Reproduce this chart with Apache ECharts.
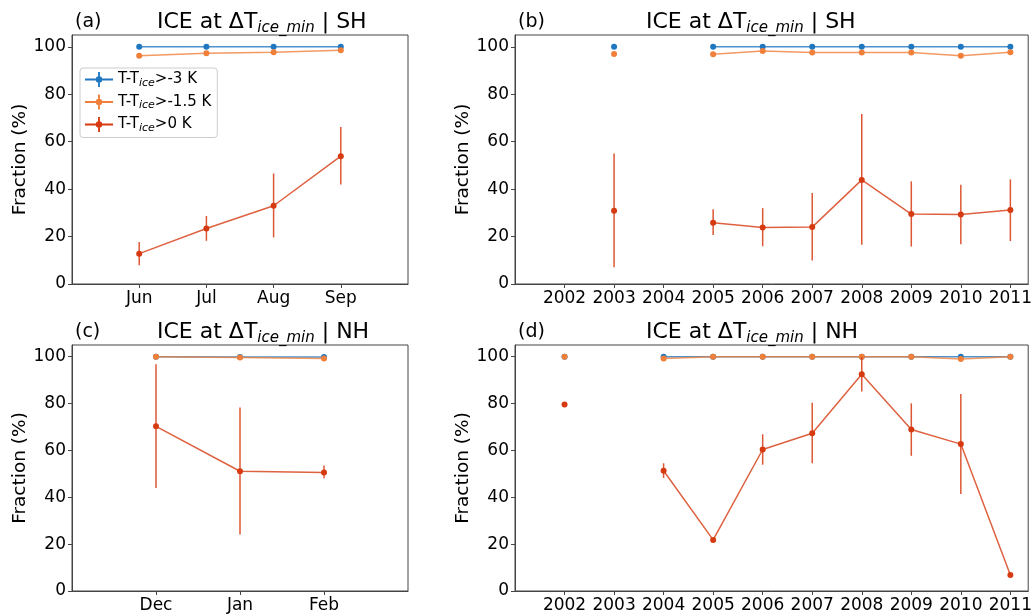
<!DOCTYPE html>
<html>
<head>
<meta charset="utf-8">
<script src="https://cdn.jsdelivr.net/npm/echarts@6/dist/echarts.min.js"></script>
<style>
  html, body { margin: 0; padding: 0; background: #fff; }
  #main { width: 1035px; height: 614px; }
</style>
</head>
<body>
<div id="main"></div>
<script>
// 数据
var monthsSH = ['Jun', 'Jul', 'Aug', 'Sep'];
var monthsNH = ['Dec', 'Jan', 'Feb'];
var years = [2002, 2003, 2004, 2005, 2006, 2007, 2008, 2009, 2010, 2011];

// (a) SH 月
var shMonBlue = [100, 100, 100, 100];
var shMonOrange = [96.2, 97.3, 97.7, 98.6];
var shMonRed = [12.8, 23.4, 33.0, 53.9];
var shMonRedLo = [7.9, 18.2, 19.7, 42.0];
var shMonRedHi = [17.7, 28.7, 46.6, 66.2];

// (b) SH 年
var shYrBlue = [null, 100, null, 100, 100, 100, 100, 100, 100, 100];
var shYrOrange = [null, 97.0, null, 96.9, 98.3, 97.6, 97.6, 97.6, 96.3, 97.7];
var shYrOrangeLo = [null, null, null, null, null, null, 96.9, null, 95.3, null];
var shYrOrangeHi = [null, null, null, null, null, null, 98.3, null, 97.4, null];
var shYrRed = [null, 30.9, null, 25.8, 23.8, 24.0, 43.9, 29.5, 29.3, 31.2];
var shYrRedLo = [null, 7.1, null, 20.7, 15.9, 9.9, 16.5, 15.8, 16.8, 18.1];
var shYrRedHi = [null, 55.0, null, 31.5, 32.0, 38.4, 71.7, 43.3, 41.9, 44.1];

// (c) NH 月
var nhMonBlue = [100, 99.9, 99.9];
var nhMonOrange = [100, 99.7, 99.2];
var nhMonRed = [70.3, 51.1, 50.6];
var nhMonRedLo = [44.0, 24.1, 48.1];
var nhMonRedHi = [96.8, 78.3, 53.6];

// (d) NH 年
var nhYrBlue = [100, null, 100, 100, 100, 100, 100, 100, 100, 100];
var nhYrOrange = [100, null, 99.2, 100, 100, 100, 100, 100, 99.0, 100];
var nhYrRed = [79.6, null, 51.3, 21.8, 60.4, 67.3, 92.5, 68.9, 62.7, 6.8];
var nhYrRedLo = [null, null, 48.3, null, 53.9, 54.5, 85.2, 57.7, 41.4, null];
var nhYrRedHi = [null, null, 54.5, null, 66.9, 80.4, 100, 80.1, 84.1, null];

var yTicks = [0, 20, 40, 60, 80, 100];

var names = ['T-Tice>-3 K', 'T-Tice>-1.5 K', 'T-Tice>0 K'];
var colors = ['#1f77c0', '#f07f3a', '#d63a10'];
var FONT = 'DejaVu Sans';
var AX = '#444';

var myChart = echarts.init(document.getElementById('main'));

function pts(xs, ys) {
    return ys.map(function (v, i) { return [xs[i], v == null ? '-' : v]; });
}
function errPts(xs, lo, hi) {
    var out = [];
    lo.forEach(function (v, i) {
        if (v != null && hi[i] != null) out.push([xs[i], v, hi[i]]);
    });
    return out;
}

function lineSeries(k, gi, data) {
    return {
        name: names[k],
        type: 'line',
        xAxisIndex: gi,
        yAxisIndex: gi,
        data: data,
        symbol: 'circle',
        symbolSize: 6,
        connectNulls: false,
        color: colors[k],
        lineStyle: { width: 1.5, color: colors[k], opacity: 0.8 },
        itemStyle: { color: colors[k] },
        z: 3 + k
    };
}
function errSeries(k, gi, data) {
    return {
        name: 'err' + k,
        type: 'custom',
        xAxisIndex: gi,
        yAxisIndex: gi,
        data: data,
        z: 3 + k,
        renderItem: function (params, api) {
            var p1 = api.coord([api.value(0), api.value(1)]);
            var p2 = api.coord([api.value(0), api.value(2)]);
            return {
                type: 'line',
                shape: { x1: p1[0], y1: p1[1], x2: p2[0], y2: p2[1] },
                style: { stroke: colors[k], lineWidth: 1.5, opacity: 0.85 }
            };
        }
    };
}

var monX4 = [1, 2, 3, 4];
var monX3 = [1, 2, 3];

var grids = [
    { left: 72, top: 35, width: 336, height: 249 },
    { left: 515, top: 35, width: 516, height: 249 },
    { left: 72, top: 345, width: 336, height: 247 },
    { left: 515, top: 345, width: 516, height: 247 }
];
grids.forEach(function (g) {
    g.show = true;
    g.borderColor = AX;
    g.borderWidth = 1;
    g.backgroundColor = 'transparent';
});

function xAxisOf(gi, min, max, ticks, fmt) {
    return {
        type: 'value',
        gridIndex: gi,
        min: min,
        max: max,
        interval: 1,
        axisLine: { show: true, lineStyle: { color: AX } },
        axisTick: { show: true, length: 4, customValues: ticks, lineStyle: { color: AX } },
        splitLine: { show: false },
        axisLabel: {
            customValues: ticks,
            margin: 6, fontSize: 17, color: '#000', fontFamily: FONT,
            formatter: fmt
        }
    };
}
function yAxisOf(gi) {
    return {
        type: 'value',
        gridIndex: gi,
        min: 0,
        max: 105,
        interval: 20,
        name: 'Fraction (%)',
        nameLocation: 'middle',
        nameRotate: 90,
        nameGap: 42,
        nameTextStyle: { fontSize: 18.5, color: '#000', fontFamily: FONT },
        axisLine: { show: true, lineStyle: { color: AX } },
        axisTick: { show: true, length: 4, customValues: yTicks, lineStyle: { color: AX } },
        splitLine: { show: false },
        axisLabel: { customValues: yTicks, margin: 6, fontSize: 17, color: '#000', fontFamily: FONT }
    };
}
var fmtYear = function (v) { return String(v); };

function titles(tag, tx, ty, lx, hemi) {
    return [{
        text: tag, left: tx, top: ty,
        textStyle: { fontSize: 19, fontWeight: 'normal', color: '#000', fontFamily: FONT }
    }, {
        text: '{n|ICE at ΔT}{s|ice_min}{n| | ' + hemi + '}',
        left: lx, top: ty - 4,
        textStyle: {
            fontWeight: 'normal',
            rich: {
                n: { fontSize: 22, fontWeight: 'normal', color: '#000', fontFamily: FONT },
                s: { fontSize: 15, fontWeight: 'normal', color: '#000', fontFamily: FONT, fontStyle: 'italic', padding: [12, 0, 0, 0] }
            }
        }
    }];
}

var legendIcon = 'path://M0,7h30v2H0z M14,0h2v16h-2z M11.5,8a3.5,3.5 0 1,1 7,0a3.5,3.5 0 1,1 -7,0z';

option = {
    animation: false,
    backgroundColor: '#fff',
    title: [].concat(
        titles('(a)', 70, 8, 152, 'SH'),
        titles('(b)', 513, 8, 641, 'SH'),
        titles('(c)', 70, 318, 152, 'NH'),
        titles('(d)', 513, 318, 641, 'NH')
    ),
    legend: {
        data: names,
        left: 80,
        top: 68,
        orient: 'vertical',
        itemGap: 6,
        itemWidth: 28,
        itemHeight: 16,
        padding: [4, 6, 4, 5],
        borderColor: '#ccc',
        borderWidth: 1,
        borderRadius: 3,
        icon: legendIcon,
        formatter: function (name) {
            return '{a|T-T}{b|ice}{a|' + name.replace('T-Tice', '') + '}';
        },
        textStyle: {
            rich: {
                a: { fontSize: 15, color: '#000', fontFamily: FONT },
                b: { fontSize: 11, color: '#000', fontFamily: FONT, fontStyle: 'italic', padding: [7, 0, 0, 0] }
            }
        }
    },
    grid: grids,
    xAxis: [
        xAxisOf(0, 0, 5, monX4, function (v) { return monthsSH[v - 1] || ''; }),
        xAxisOf(1, 2001, 2011.36, years, fmtYear),
        xAxisOf(2, 0, 4, monX3, function (v) { return monthsNH[v - 1] || ''; }),
        xAxisOf(3, 2001, 2011.36, years, fmtYear)
    ],
    yAxis: [yAxisOf(0), yAxisOf(1), yAxisOf(2), yAxisOf(3)],
    series: [
        // (a)
        lineSeries(0, 0, pts(monX4, shMonBlue)),
        lineSeries(1, 0, pts(monX4, shMonOrange)),
        errSeries(2, 0, errPts(monX4, shMonRedLo, shMonRedHi)),
        lineSeries(2, 0, pts(monX4, shMonRed)),
        // (b)
        lineSeries(0, 1, pts(years, shYrBlue)),
        errSeries(1, 1, errPts(years, shYrOrangeLo, shYrOrangeHi)),
        lineSeries(1, 1, pts(years, shYrOrange)),
        errSeries(2, 1, errPts(years, shYrRedLo, shYrRedHi)),
        lineSeries(2, 1, pts(years, shYrRed)),
        // (c)
        lineSeries(0, 2, pts(monX3, nhMonBlue)),
        lineSeries(1, 2, pts(monX3, nhMonOrange)),
        errSeries(2, 2, errPts(monX3, nhMonRedLo, nhMonRedHi)),
        lineSeries(2, 2, pts(monX3, nhMonRed)),
        // (d)
        lineSeries(0, 3, pts(years, nhYrBlue)),
        lineSeries(1, 3, pts(years, nhYrOrange)),
        errSeries(2, 3, errPts(years, nhYrRedLo, nhYrRedHi)),
        lineSeries(2, 3, pts(years, nhYrRed))
    ]
};

myChart.setOption(option);
</script>
</body>
</html>
